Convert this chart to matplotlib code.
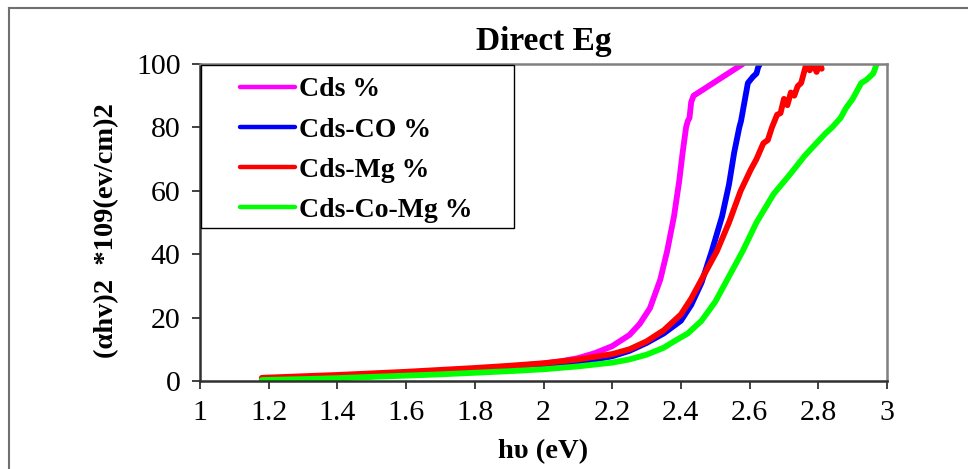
import matplotlib.pyplot as plt
from matplotlib.patches import Rectangle
from matplotlib.lines import Line2D

plt.rcParams['font.family'] = ['Liberation Serif', 'DejaVu Serif']

# data
cds_x = [1.18, 1.3, 1.4, 1.5, 1.6, 1.7, 1.8, 1.9, 2.0, 2.05, 2.1, 2.15, 2.2, 2.25,
         2.28, 2.31, 2.34, 2.36, 2.38, 2.395, 2.405, 2.415, 2.42, 2.425, 2.43, 2.437, 2.58]
cds_y = [0.5, 1.0, 1.4, 1.9, 2.4, 3.0, 3.6, 4.5, 5.5, 6.2, 7.2, 8.8, 11, 14.5,
         18, 23, 32, 41, 52, 63, 72, 80, 82, 83, 88, 90, 100]

co_x = [1.18, 1.3, 1.4, 1.5, 1.6, 1.7, 1.8, 1.9, 2.0, 2.1, 2.2, 2.25, 2.3, 2.35, 2.4,
        2.43, 2.46, 2.49, 2.52, 2.54, 2.555, 2.57, 2.575, 2.585, 2.595, 2.61, 2.62,
        2.625, 2.63]
co_y = [0.1, 0.6, 1.0, 1.5, 2.0, 2.5, 3.1, 3.8, 4.6, 5.8, 7.8, 9.5, 12, 15, 19,
        24, 31, 41, 52, 62, 72, 80, 82, 88, 94, 96, 97, 99, 100]

mg_x = [1.18, 1.3, 1.4, 1.5, 1.6, 1.7, 1.8, 1.9, 2.0, 2.1, 2.2, 2.25, 2.3, 2.35, 2.4,
        2.43, 2.46, 2.505, 2.54, 2.574, 2.603, 2.62, 2.64, 2.653, 2.665, 2.68, 2.69,
        2.70, 2.71, 2.72, 2.73, 2.74, 2.75, 2.765, 2.775, 2.785, 2.795, 2.805, 2.81]
mg_y = [1.0, 1.5, 1.9, 2.4, 2.9, 3.5, 4.1, 4.8, 5.6, 6.8, 8.5, 10, 12.5, 16, 21,
        26, 32, 41, 50, 60, 66.6, 70, 75, 76, 80, 84, 84.5, 89, 87, 91, 90, 93, 94,
        100, 98, 100, 97.5, 100, 98.5]

cm_x = [1.18, 1.3, 1.4, 1.5, 1.6, 1.7, 1.8, 1.9, 2.0, 2.1, 2.2, 2.25, 2.3, 2.35, 2.38,
        2.42, 2.46, 2.5, 2.54, 2.58, 2.62, 2.67, 2.72, 2.76, 2.82, 2.84, 2.865, 2.88,
        2.9, 2.925, 2.94, 2.96, 2.97]
cm_y = [0.3, 0.6, 0.9, 1.3, 1.7, 2.1, 2.6, 3.1, 3.7, 4.6, 5.8, 6.8, 8.3, 10.5, 12.5,
        15, 19, 25, 33, 41, 50, 59, 65.5, 71, 78, 80, 83, 86, 89, 94, 95, 97, 100]

series = [
    (cds_x, cds_y, '#FF00FF', 'Cds %'),
    (co_x, co_y, '#0000FF', 'Cds-CO %'),
    (mg_x, mg_y, '#FF0000', 'Cds-Mg %'),
    (cm_x, cm_y, '#00FF00', 'Cds-Co-Mg %'),
]

fig = plt.figure(figsize=(9.68, 4.69), dpi=100)
# outer chart-area border (only top and left visible in the crop)
top = 1 - 8 / 469
left = 8.5 / 968
fig.add_artist(Line2D([left, 1.0], [top, top], transform=fig.transFigure,
                      color='#707070', linewidth=1.5))
fig.add_artist(Line2D([left, left], [0.0, top], transform=fig.transFigure,
                      color='#707070', linewidth=1.5))

ax = fig.add_axes([200 / 968, 88 / 469, 687 / 968, 317 / 469])

for x, y, c, lab in series:
    ax.plot(x, y, color=c, linewidth=4.2, label=lab, solid_capstyle='round')

ax.set_xlim(1, 3)
ax.set_ylim(0, 100)
ax.set_xticks([1, 1.2, 1.4, 1.6, 1.8, 2, 2.2, 2.4, 2.6, 2.8, 3])
ax.set_xticklabels(['1', '1.2', '1.4', '1.6', '1.8', '2', '2.2', '2.4', '2.6', '2.8', '3'])
ax.set_yticks([0, 20, 40, 60, 80, 100])
ax.tick_params(direction='out', length=6, width=1.2, labelsize=21.5, color='#202020')
ax.tick_params(axis='x', pad=8)
ax.tick_params(axis='y', pad=8)

for s in ['top', 'right']:
    ax.spines[s].set_color('#808080')
    ax.spines[s].set_linewidth(1.8)
for s in ['left', 'bottom']:
    ax.spines[s].set_color('#303030')
    ax.spines[s].set_linewidth(1.8)

ax.set_title('Direct Eg', fontsize=24, fontweight='bold', pad=10)
ax.set_xlabel('hυ (eV)', fontsize=20.5, fontweight='bold', labelpad=9)
ax.set_ylabel('(αhv)2  *109(ev/cm)2', fontsize=20.5, fontweight='bold')
ax.yaxis.set_label_coords(-0.117, 0.476)

# legend box drawn separately: the original has wide side padding
ax.add_patch(Rectangle((0.0015, 0.483), 0.455, 0.514, transform=ax.transAxes,
                       fill=True, facecolor='white', edgecolor='black',
                       linewidth=1.0, zorder=5))
leg = ax.legend(loc='upper left', bbox_to_anchor=(0.058, 0.959), borderaxespad=0,
                borderpad=0, frameon=False,
                prop={'size': 20, 'weight': 'bold'}, handlelength=2.0,
                handletextpad=0.12, labelspacing=0.53)
leg.set_zorder(6)
for line in leg.get_lines():
    line.set_linewidth(3.2)

fig.savefig('out.png', dpi=100)
